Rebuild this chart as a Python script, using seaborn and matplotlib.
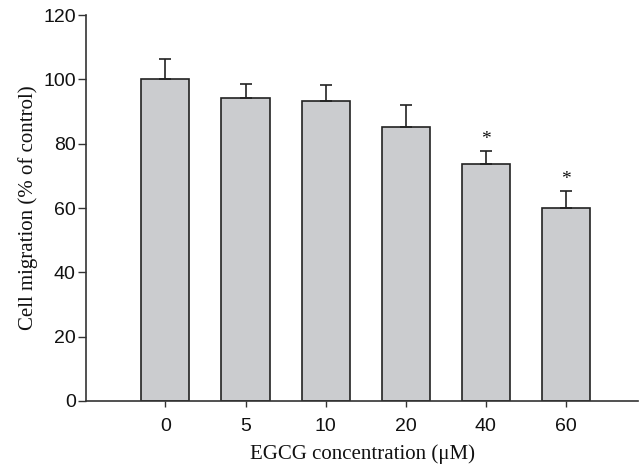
import matplotlib
matplotlib.use("Agg")
import matplotlib.pyplot as plt
import numpy as np
import pandas as pd
import seaborn as sns

# data
concentrations = ["0", "5", "10", "20", "40", "60"]
migration = [100.0, 94.2, 93.2, 85.2, 73.7, 59.9]
sem = [6.3, 4.3, 5.1, 6.9, 4.0, 5.4]
significant = [False, False, False, False, True, True]

df = pd.DataFrame({"conc": concentrations, "migration": migration})

sns.set_style("ticks")
plt.rcParams["font.family"] = ["Liberation Sans", "DejaVu Sans"]

fig = plt.figure(figsize=(6.43, 4.69), dpi=100)
ax = fig.add_axes([0.134, 0.145, 0.858, 0.823])

sns.barplot(data=df, x="conc", y="migration", order=concentrations,
            color="#cbcccf", saturation=1, width=0.6, errorbar=None,
            edgecolor="#222222", linewidth=1.2, ax=ax)

# upper-only error bars
xs = np.arange(len(concentrations))
ax.errorbar(xs, migration, yerr=[np.zeros(len(sem)), sem], fmt="none",
            ecolor="#222222", elinewidth=1.2, capsize=4.3, capthick=1.2, zorder=3)

# significance stars
for i, (m, e, s) in enumerate(zip(migration, sem, significant)):
    if s:
        ax.text(i, m + e + 0.8, "*", ha="center", va="bottom", fontsize=14,
                family=["Liberation Serif"], color="#111111")

ax.set_ylim(0, 120)
ax.set_xlim(-0.99, 5.9)
ax.set_yticks(range(0, 121, 20))
ax.tick_params(axis="both", labelsize=14, width=1, color="#333333",
               labelcolor="#111111")
ax.tick_params(axis="y", length=6, pad=1.5)
ax.tick_params(axis="x", length=4, pad=8)
sns.despine(ax=ax)
for sp in ["left", "bottom"]:
    ax.spines[sp].set_linewidth(1.2)
    ax.spines[sp].set_color("#333333")

ax.set_xlabel("EGCG concentration (\u03bcM)", family=["Liberation Serif"],
              fontsize=15, labelpad=7, color="#111111")
ax.set_ylabel("Cell migration (% of control)", family=["Liberation Serif"],
              fontsize=15, labelpad=4, color="#111111")

fig.savefig("out.png", dpi=100)
